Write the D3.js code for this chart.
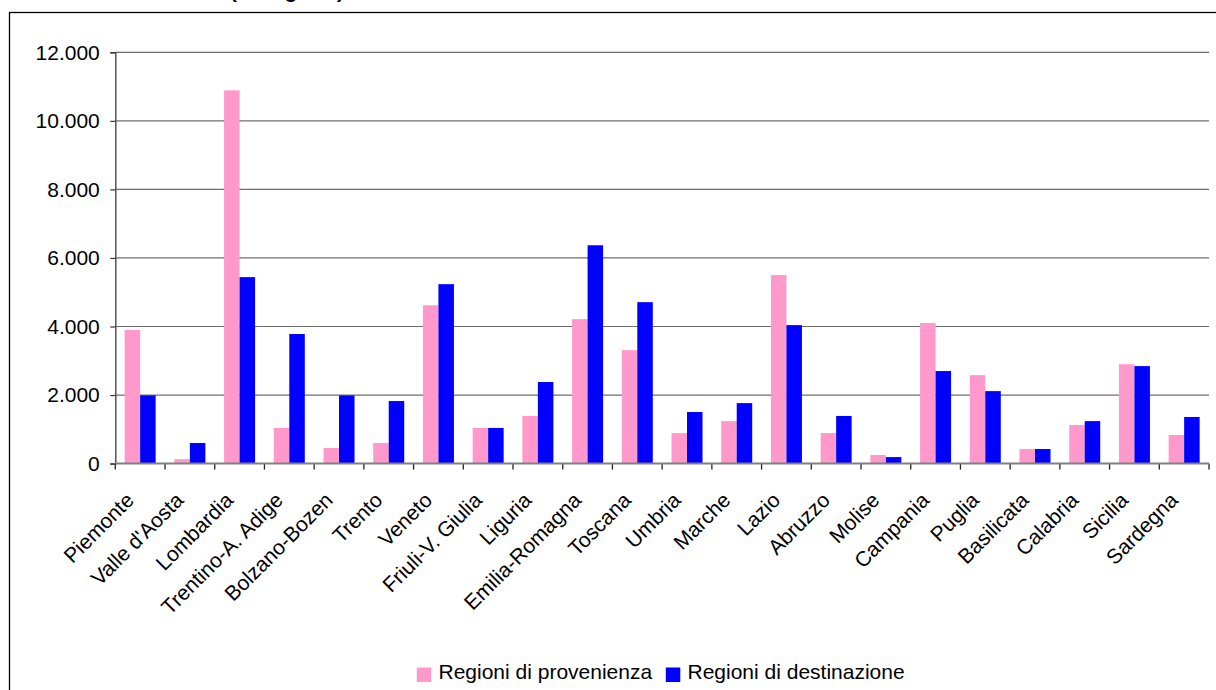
<!DOCTYPE html>
<html>
<head>
<meta charset="utf-8">
<script src="https://cdn.jsdelivr.net/npm/d3@7"></script>
<style>
  html, body { margin: 0; padding: 0; background: #fff; }
  svg { display: block; font-family: "Liberation Sans", Arial, sans-serif; }
</style>
</head>
<body>
<svg id="chart" width="1216" height="690"></svg>
<script>
// Regioni italiane
const categories = ["Piemonte", "Valle d'Aosta", "Lombardia", "Trentino-A. Adige", "Bolzano-Bozen",
  "Trento", "Veneto", "Friuli-V. Giulia", "Liguria", "Emilia-Romagna", "Toscana", "Umbria",
  "Marche", "Lazio", "Abruzzo", "Molise", "Campania", "Puglia", "Basilicata", "Calabria",
  "Sicilia", "Sardegna"];

const provenienza = [3900, 130, 10890, 1040, 455, 600, 4620, 1040, 1390, 4215, 3310, 890,
  1240, 5500, 890, 250, 4100, 2580, 425, 1125, 2900, 835];

const destinazione = [1990, 600, 5440, 3780, 1990, 1825, 5235, 1040, 2380, 6370, 4710, 1505,
  1765, 4040, 1390, 190, 2700, 2115, 425, 1240, 2845, 1360];

const seriesNames = ["Regioni di provenienza", "Regioni di destinazione"];
const seriesColors = ["#FF99CC", "#0000FF"];
const yTicks = [0, 2000, 4000, 6000, 8000, 10000, 12000];

const svg = d3.select("#chart");
const W = 1216, H = 690;
const FS = 21;
const plot = { left: 115.3, right: 1209, top: 52.3, bottom: 463.6 };

// chart frame
svg.append("rect")
  .attr("x", 9.5).attr("y", 12.5)
  .attr("width", W + 20).attr("height", H + 20)
  .attr("fill", "none").attr("stroke", "#000").attr("stroke-width", 1.3);

// title line, mostly above the visible area
svg.append("text")
  .attr("x", 230).attr("y", -2)
  .attr("font-size", 20.5).attr("font-weight", "bold")
  .text("(in migliaia)");

const x = d3.scaleBand().domain(categories).range([plot.left, plot.right]).padding(0);
const y = d3.scaleLinear().domain([0, 12000]).range([plot.bottom, plot.top]);

const barW = 15.5;

// gridlines
svg.append("g")
  .selectAll("line")
  .data(yTicks.filter(d => d > 0))
  .join("line")
  .attr("x1", plot.left).attr("x2", plot.right)
  .attr("y1", d => y(d)).attr("y2", d => y(d))
  .attr("stroke", "#6e6e6e").attr("stroke-width", 1.2);

// bars
const groups = svg.append("g")
  .selectAll("g")
  .data(categories)
  .join("g")
  .attr("transform", d => `translate(${x(d) + x.bandwidth() / 2},0)`);

groups.append("rect")
  .attr("x", -barW)
  .attr("width", barW)
  .attr("y", (d, i) => y(provenienza[i]))
  .attr("height", (d, i) => plot.bottom - y(provenienza[i]))
  .attr("fill", seriesColors[0]);

groups.append("rect")
  .attr("x", 0)
  .attr("width", barW)
  .attr("y", (d, i) => y(destinazione[i]))
  .attr("height", (d, i) => plot.bottom - y(destinazione[i]))
  .attr("fill", seriesColors[1]);

// y axis
const yAxis = svg.append("g")
  .attr("transform", `translate(${plot.left},0)`)
  .call(d3.axisLeft(y).tickValues(yTicks).tickSize(5).tickPadding(10.5)
    .tickFormat(d => d3.format(",")(d).replace(/,/g, ".")));
yAxis.select(".domain").attr("stroke", "#555").attr("stroke-width", 1.5);
yAxis.selectAll(".tick line").attr("stroke", "#333").attr("stroke-width", 1.2);
yAxis.selectAll(".tick text")
  .attr("font-size", FS).attr("fill", "#000")
  .attr("font-family", "Liberation Sans, Arial, sans-serif");

// x axis: tick marks at category boundaries
const boundaries = categories.map(c => x(c)).concat([plot.right]);
svg.append("g")
  .selectAll("line")
  .data(boundaries)
  .join("line")
  .attr("x1", d => d).attr("x2", d => d)
  .attr("y1", plot.bottom).attr("y2", plot.bottom + 6)
  .attr("stroke", "#222").attr("stroke-width", 1.3);

svg.append("line")
  .attr("x1", plot.left).attr("x2", plot.right)
  .attr("y1", plot.bottom).attr("y2", plot.bottom)
  .attr("stroke", "#808080").attr("stroke-width", 2);

// category labels, rotated 45°
svg.append("g")
  .selectAll("text")
  .data(categories)
  .join("text")
  .attr("transform", d => `translate(${x(d) + x.bandwidth() / 2 - 5},${plot.bottom + 38}) rotate(-45)`)
  .attr("text-anchor", "end")
  .attr("font-size", FS)
  .text(d => d);

// legend
const legend = svg.append("g").attr("transform", "translate(416.8,667.5)");
const legendX = [0, 249];
seriesNames.forEach((name, i) => {
  const g = legend.append("g").attr("transform", `translate(${legendX[i]},0)`);
  g.append("rect").attr("width", 14.5).attr("height", 14.5).attr("fill", seriesColors[i]);
  g.append("text").attr("x", 21.7).attr("y", 11.5).attr("font-size", FS).text(name);
});
</script>
</body>
</html>
